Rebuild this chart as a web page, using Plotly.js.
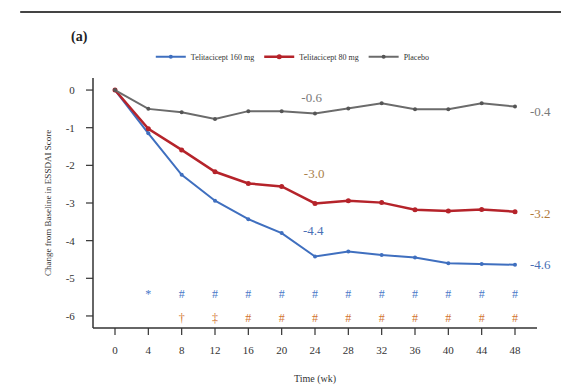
<!DOCTYPE html>
<html>
<head>
<meta charset="utf-8">
<script src="https://cdn.plot.ly/plotly-3.0.1.min.js"></script>
<style>html,body{margin:0;padding:0;background:#fff;}#chart{width:561px;height:390px;}</style>
</head>
<body>
<div id="chart"></div>
<script>
// Data
const weeks = [0, 4, 8, 12, 16, 20, 24, 28, 32, 36, 40, 44, 48];
const tel160 = [0, -1.15, -2.25, -2.94, -3.43, -3.80, -4.42, -4.29, -4.38, -4.45, -4.60, -4.62, -4.64];
const tel80  = [0, -1.03, -1.59, -2.17, -2.48, -2.56, -3.01, -2.94, -2.99, -3.18, -3.21, -3.17, -3.23];
const placebo = [0, -0.50, -0.59, -0.77, -0.56, -0.56, -0.62, -0.49, -0.35, -0.51, -0.51, -0.35, -0.44];
const seriesNames = ["Telitacicept 160 mg", "Telitacicept 80 mg", "Placebo"];
const sigWeeks = [4, 8, 12, 16, 20, 24, 28, 32, 36, 40, 44, 48];
const sig160 = ["*", "#", "#", "#", "#", "#", "#", "#", "#", "#", "#", "#"];
const sig80  = ["", "†", "‡", "#", "#", "#", "#", "#", "#", "#", "#", "#"];
const yTicks = [0, -1, -2, -3, -4, -5, -6];
const xTicks = weeks;
const midLabels = ["-0.6", "-3.0", "-4.4"];
const endLabels = ["-0.4", "-3.2", "-4.6"];

const cBlue = "#3f6fbf", cRed = "#b5232a", cGray = "#6b6b6b", cOrange = "#d2742e";
const serif = "Liberation Serif, DejaVu Serif, serif";

const xRange = [-2.64, 50.64];
const yRange = [-6.32, 0.32];

const midX = [23.6, 23.9, 23.8];
const midY = [-0.24, -2.25, -3.77];
const midColors = ["#7a7a7a", "#a9814a", "#4a6fb5"];
const endX = 51.1;
const endY = [-0.56, -3.27, -4.64];
const endColors = ["#7a7a7a", "#b07a3a", "#4a6fb5"];

const traces = [
  {x: weeks, y: tel160, name: seriesNames[0], mode: "lines+markers",
   line: {color: cBlue, width: 2}, marker: {color: cBlue, size: 4}},
  {x: weeks, y: tel80, name: seriesNames[1], mode: "lines+markers",
   line: {color: cRed, width: 2.5}, marker: {color: cRed, size: 5}},
  {x: weeks, y: placebo, name: seriesNames[2], mode: "lines+markers",
   line: {color: cGray, width: 2}, marker: {color: "#555", size: 4}},
  {x: sigWeeks, y: sigWeeks.map(() => -5.45), text: sig160, mode: "text", showlegend: false,
   textfont: {family: serif, size: 12, color: "#4a78c8"}, hoverinfo: "skip", cliponaxis: false},
  {x: sigWeeks, y: sigWeeks.map(() => -6.08), text: sig80, mode: "text", showlegend: false,
   textfont: {family: serif, size: 12, color: cOrange}, hoverinfo: "skip", cliponaxis: false},
  {x: midX, y: midY, text: midLabels, mode: "text", showlegend: false,
   textfont: {family: serif, size: 13, color: midColors}, hoverinfo: "skip", cliponaxis: false}
];

// labels right of the axis range: paper units derived from the axis ranges
const toPaperX = v => (v - xRange[0]) / (xRange[1] - xRange[0]);
const toPaperY = v => (v - yRange[0]) / (yRange[1] - yRange[0]);
const annotations = endLabels.map((t, i) => ({
  x: toPaperX(endX), xref: "paper", y: toPaperY(endY[i]), yref: "paper", text: t, showarrow: false,
  xanchor: "center", yanchor: "middle", font: {family: serif, size: 13, color: endColors[i]}
}));
annotations.push({x: -0.03, y: 1.165, xref: "paper", yref: "paper", text: "<b>(a)</b>",
  showarrow: false, font: {family: serif, size: 14, color: "#222"}, xanchor: "center", yanchor: "middle"});

// axis lines and tick marks as shapes built from the tick arrays
const axisColor = "#333";
const plotW = 561 - 93 - 24, plotH = 390 - 78 - 62, tickLen = 7;
const shapes = [
  {type: "line", xref: "paper", yref: "paper", x0: -0.164, x1: 1.06, y0: 1.264, y1: 1.264, line: {color: "#444", width: 2}},
  {type: "line", xref: "paper", yref: "paper", x0: 0, x1: 1, y0: 0, y1: 0, line: {color: axisColor, width: 1.5}},
  {type: "line", xref: "paper", yref: "paper", x0: 0, x1: 0, y0: 0, y1: 1, line: {color: axisColor, width: 1.5}}
];
xTicks.forEach(v => shapes.push({type: "line", xref: "x", yref: "paper", x0: v, x1: v,
  y0: 0, y1: -tickLen / plotH, line: {color: axisColor, width: 1.2}}));
yTicks.forEach(v => shapes.push({type: "line", xref: "paper", yref: "y", x0: 0, x1: -tickLen / plotW,
  y0: v, y1: v, line: {color: axisColor, width: 1.2}}));

const tickFont = {family: serif, size: 11, color: "#333"};
const layout = {
  width: 561, height: 390,
  margin: {l: 93, r: 24, t: 78, b: 62},
  paper_bgcolor: "#fff", plot_bgcolor: "#fff",
  showlegend: true,
  legend: {orientation: "h", x: 0.45, xanchor: "center", y: 1.085, yanchor: "middle",
    font: {family: serif, size: 8, color: "#333"}, itemwidth: 30, tracegroupgap: 0,
    traceorder: "normal"},
  xaxis: {range: xRange, tickvals: xTicks, ticktext: xTicks.map(String),
    ticks: "outside", ticklen: 12, tickcolor: "rgba(0,0,0,0)",
    showline: false, showgrid: false, zeroline: false, tickfont: tickFont,
    title: {text: "Time (wk)", font: {family: serif, size: 10, color: "#333"}, standoff: 19}},
  yaxis: {range: yRange, tickvals: yTicks, ticktext: yTicks.map(String),
    ticks: "outside", ticklen: 15, tickcolor: "rgba(0,0,0,0)",
    showline: false, showgrid: false, zeroline: false, tickfont: tickFont,
    title: {text: "Change from Baseline in ESSDAI Score", font: {family: serif, size: 9, color: "#333"}, standoff: 12}},
  shapes: shapes,
  annotations: annotations
};

Plotly.newPlot("chart", traces, layout, {displayModeBar: false, staticPlot: true});
</script>
</body>
</html>
